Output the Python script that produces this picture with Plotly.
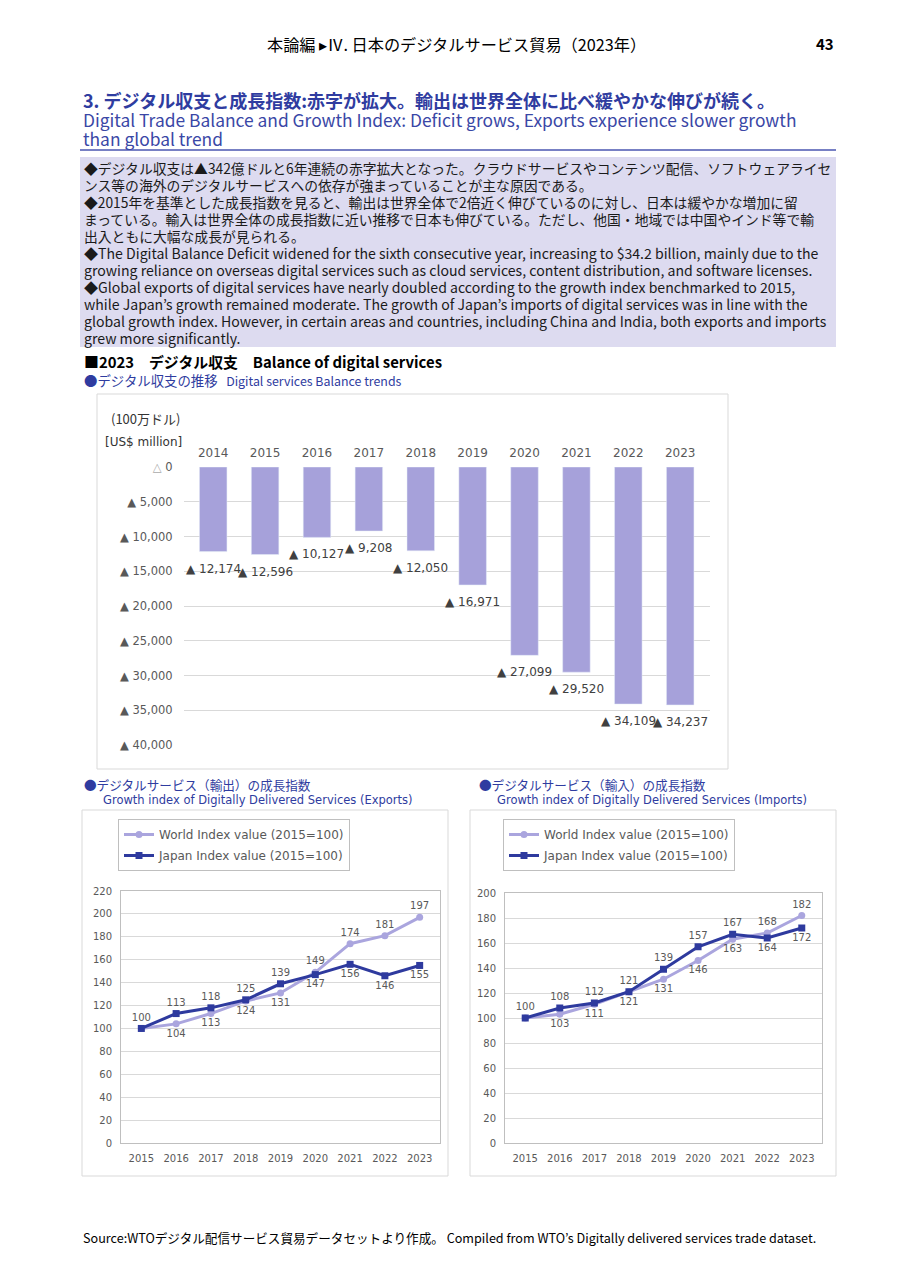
import plotly.graph_objects as go

# page body adds an 8px margin, so the figure covers the page from (8, 8)
OFF = 8
W, H = 916 - OFF, 1280 - OFF

# ---- data ------------------------------------------------------------
bal_years = ['2014', '2015', '2016', '2017', '2018', '2019', '2020', '2021', '2022', '2023']
balance = [-12174, -12596, -10127, -9208, -12050, -16971, -27099, -29520, -34109, -34237]
bal_ticks = [0, -5000, -10000, -15000, -20000, -25000, -30000, -35000, -40000]

idx_years = ['2015', '2016', '2017', '2018', '2019', '2020', '2021', '2022', '2023']
exp_world = [100, 104, 113, 124, 131, 149, 174, 181, 197]
exp_japan = [100, 113, 118, 125, 139, 147, 156, 146, 155]
imp_world = [100, 103, 111, 121, 131, 146, 163, 168, 182]
imp_japan = [100, 108, 112, 121, 139, 157, 167, 164, 172]

# label placement (above / below the point)
T, B = 'top center', 'bottom center'
exp_world_pos = [T, B, B, B, B, T, T, T, T]
exp_japan_pos = [T, T, T, T, T, B, B, B, B]
imp_world_pos = [T, B, B, B, B, B, B, T, T]
imp_japan_pos = [T, T, T, T, T, T, T, B, B]

WORLD_NAME = 'World Index value (2015=100)'
JAPAN_NAME = 'Japan Index value (2015=100)'

# ---- styles ----------------------------------------------------------
JP = 'Noto Sans CJK JP, sans-serif'
CHART = 'DejaVu Sans, Noto Sans CJK JP, sans-serif'
BLUE = '#2f3ca0'
BAR_C = '#a6a1da'
WORLD_C = '#aaa5de'
JAPAN_C = '#2e3a9e'
GRAY = '#595959'
GRID = '#d9d9d9'


def px(x):
    return (x - OFF) / W


def py(y):
    return 1 - (y - OFF) / H


annotations = []


def txt(x, y, s, size=14, color='black', family=JP, anchor='left'):
    annotations.append(dict(x=px(x), y=py(y), xref='paper', yref='paper', text=s,
                            showarrow=False, xanchor=anchor, yanchor='middle', align='left',
                            font=dict(size=size, color=color, family=family)))


def block(x, y_first, pitch, lines, color):
    # one text element, line pitch = 1.3 * base size; each line keeps its own size
    body = '<br>'.join('<span style="font-size:%spx">%s</span>' % (sz, s) for s, sz in lines)
    y_mid = y_first + pitch * (len(lines) - 1) / 2
    txt(x, y_mid, body, pitch / 1.3, color)


def neg_label(v):
    return '<span style="color:#aaaaaa">△</span> 0' if v == 0 else '▲ {:,}'.format(abs(v))


fig = go.Figure()

# ---- balance bars ----------------------------------------------------
fig.add_trace(go.Bar(x=bal_years, y=balance, marker_color=BAR_C, width=0.53,
                     showlegend=False, xaxis='x', yaxis='y', hoverinfo='x+y'))
for i, v in enumerate(balance):
    annotations.append(dict(x=i, y=v, xref='x', yref='y', text=neg_label(v), showarrow=False,
                            yshift=-17, font=dict(size=12, color='#404040', family=CHART)))

# ---- growth index lines ----------------------------------------------
def add_lines(world, japan, wpos, jpos, xa, ya, leg):
    fig.add_trace(go.Scatter(
        x=idx_years, y=world, name=WORLD_NAME, mode='lines+markers+text',
        line=dict(color=WORLD_C, width=3), marker=dict(symbol='circle', size=7),
        text=[''] + [str(v) for v in world[1:]], textposition=wpos,
        textfont=dict(size=10, color=GRAY, family=CHART), cliponaxis=False,
        xaxis=xa, yaxis=ya, legend=leg, legendgroup=leg + 'w'))
    fig.add_trace(go.Scatter(
        x=idx_years, y=japan, name=JAPAN_NAME, mode='lines+markers+text',
        line=dict(color=JAPAN_C, width=3), marker=dict(symbol='square', size=7),
        text=[str(v) for v in japan], textposition=jpos,
        textfont=dict(size=10, color=GRAY, family=CHART), cliponaxis=False,
        xaxis=xa, yaxis=ya, legend=leg, legendgroup=leg + 'j'))


add_lines(exp_world, exp_japan, exp_world_pos, exp_japan_pos, 'x2', 'y2', 'legend')
add_lines(imp_world, imp_japan, imp_world_pos, imp_japan_pos, 'x3', 'y3', 'legend2')

# ---- page text -------------------------------------------------------
txt(456, 44, '本論編 ▸Ⅳ. 日本のデジタルサービス貿易（2023年）', 16.2, anchor='center')
txt(836, 44, '<b>43</b>', 15, anchor='right')

block(81, 100, 19, [
    ('<b style="color:%s">3. デジタル収支と成長指数:赤字が拡大。輸出は世界全体に比べ緩やかな伸びが続く。</b>' % BLUE, 18),
    ('Digital Trade Balance and Growth Index: Deficit grows, Exports experience slower growth', 17.4),
    ('than global trend', 17.4),
], '#3a47a6')

jp_lines = [
    '◆デジタル収支は▲342億ドルと6年連続の赤字拡大となった。クラウドサービスやコンテンツ配信、ソフトウェアライセ',
    'ンス等の海外のデジタルサービスへの依存が強まっていることが主な原因である。',
    '◆2015年を基準とした成長指数を見ると、輸出は世界全体で2倍近く伸びているのに対し、日本は緩やかな増加に留',
    'まっている。輸入は世界全体の成長指数に近い推移で日本も伸びている。ただし、他国・地域では中国やインド等で輸',
    '出入ともに大幅な成長が見られる。',
]
en_lines = [
    '◆The Digital Balance Deficit widened for the sixth consecutive year, increasing to $34.2 billion, mainly due to the',
    'growing reliance on overseas digital services such as cloud services, content distribution, and software licenses.',
    '◆Global exports of digital services have nearly doubled according to the growth index benchmarked to 2015,',
    'while Japan’s growth remained moderate. The growth of Japan’s imports of digital services was in line with the',
    'global growth index. However, in certain areas and countries, including China and India, both exports and imports',
    'grew more significantly.',
]
block(82, 168, 17, [(s, 13.8) for s in jp_lines] + [(s, 14.1) for s in en_lines], '#1a1a1a')

txt(82, 361, '<b>■2023　デジタル収支　Balance of digital services</b>', 14.9)
txt(82, 380, '●デジタル収支の推移 <span style="font-size:12.4px">  Digital services Balance trends</span>', 13.4, BLUE)
txt(109, 418, '(100万ドル)', 13, '#333333')
txt(103, 442, '[US$ million]', 12, '#333333', family=CHART)

txt(82, 784, '●デジタルサービス（輸出）の成長指数', 12.6, BLUE)
txt(101, 800, 'Growth index of Digitally Delivered Services (Exports)', 11.5, BLUE, family=CHART)
txt(477, 784, '●デジタルサービス（輸入）の成長指数', 12.6, BLUE)
txt(495, 800, 'Growth index of Digitally Delivered Services (Imports)', 11.5, BLUE, family=CHART)

txt(81, 1237, 'Source:WTOデジタル配信サービス貿易データセットより作成。 Compiled from WTO’s Digitally delivered services trade dataset.', 12.6)

# ---- frames ----------------------------------------------------------
def rect(x0, y0, x1, y1, line='#d9d9d9'):
    return dict(type='rect', xref='paper', yref='paper', x0=px(x0), x1=px(x1), y0=py(y1), y1=py(y0),
                line=dict(color=line, width=1), fillcolor='rgba(0,0,0,0)', layer='below')


shapes = [
    dict(type='line', xref='paper', yref='paper', x0=px(80), x1=px(836), y0=py(150), y1=py(150),
         line=dict(color='#4a56b0', width=1.5)),
    dict(type='rect', xref='paper', yref='paper', x0=px(80), x1=px(836), y0=py(347), y1=py(157),
         line=dict(width=0), fillcolor='#dddbf0', layer='below'),
    rect(97, 394, 728, 769),
    rect(82, 810, 448, 1176),
    rect(470, 810, 836, 1176),
]

legend_style = dict(bordercolor='#bfbfbf', borderwidth=1, bgcolor='white', xanchor='left', yanchor='top',
                    font=dict(size=12, color=GRAY, family=CHART), tracegroupgap=2, itemwidth=30)

fig.update_layout(
    width=W, height=H, margin=dict(l=0, r=0, t=0, b=0, autoexpand=False),
    paper_bgcolor='white', plot_bgcolor='white',
    annotations=annotations, shapes=shapes,
    legend=dict(x=px(118), y=py(819), **legend_style),
    legend2=dict(x=px(503), y=py(819), **legend_style),
    xaxis=dict(domain=[px(183.7), px(709.7)], anchor='y', side='top', type='category',
               showline=False, ticks='', ticklabelstandoff=7,
               tickfont=dict(size=12, color=GRAY, family=CHART)),
    yaxis=dict(domain=[py(745), py(467)], anchor='x', range=[-40000, 0], tickvals=bal_ticks,
               ticktext=[neg_label(v) for v in bal_ticks], showgrid=True, gridcolor=GRID,
               zeroline=False, showline=False, ticklabelstandoff=10,
               tickfont=dict(size=11.5, color=GRAY, family=CHART)),
    xaxis2=dict(domain=[px(121), px(440)], anchor='y2', type='category', showline=True, mirror=True,
                linecolor='#bfbfbf', ticks='', ticklabelstandoff=6,
                tickfont=dict(size=10, color=GRAY, family=CHART)),
    yaxis2=dict(domain=[py(1143), py(891)], anchor='x2', range=[0, 220], dtick=20, showgrid=True,
                gridcolor=GRID, zeroline=False, showline=True, mirror=True, linecolor='#bfbfbf',
                ticklabelstandoff=6, tickfont=dict(size=10, color=GRAY, family=CHART)),
    xaxis3=dict(domain=[px(505), px(822)], anchor='y3', type='category', showline=True, mirror=True,
                linecolor='#bfbfbf', ticks='', ticklabelstandoff=6,
                tickfont=dict(size=10, color=GRAY, family=CHART)),
    yaxis3=dict(domain=[py(1143), py(893)], anchor='x3', range=[0, 200], dtick=20, showgrid=True,
                gridcolor=GRID, zeroline=False, showline=True, mirror=True, linecolor='#bfbfbf',
                ticklabelstandoff=6, tickfont=dict(size=10, color=GRAY, family=CHART)),
)

fig.write_html('out.html')
